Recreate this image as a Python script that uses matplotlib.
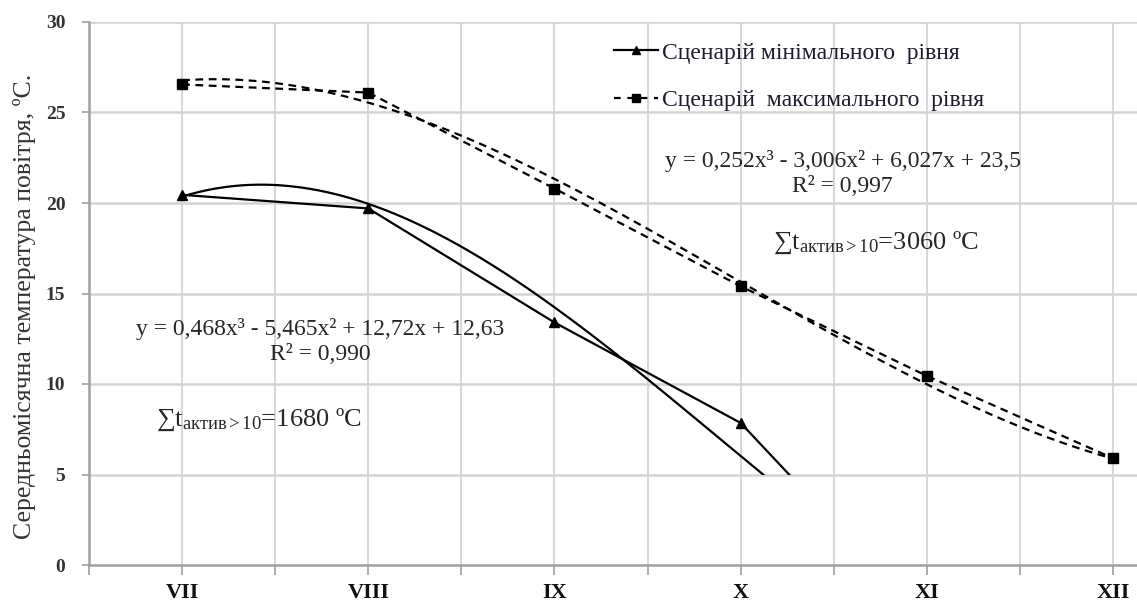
import numpy as np
import matplotlib
matplotlib.use("Agg")
import matplotlib.pyplot as plt
from matplotlib.patches import Rectangle
from matplotlib.lines import Line2D

# ---- data ----
categories = ["VII", "VIII", "IX", "X", "XI", "XII"]
min_vals = [20.45, 19.7, 13.4, 7.85, -3.1]      # last point runs off below the 5-line
max_vals = [26.55, 26.1, 20.8, 15.4, 10.45, 5.9]
min_coef = [0.468, -5.465, 12.72, 12.63]         # cubic trend, minimum scenario
max_coef = [0.252, -3.006, 6.027, 23.5]          # cubic trend, maximum scenario
label_min = "Сценарій мінімального  рівня"
label_max = "Сценарій  максимального  рівня"
eq_min = "y = 0,468x³ - 5,465x² + 12,72x + 12,63\nR² = 0,990"
eq_max = "y = 0,252x³ - 3,006x² + 6,027x + 23,5\nR² = 0,997"
sum_min = r"$\mathrm{∑t_{актив>10}}$=1680 ºC"
sum_max = r"$\mathrm{∑t_{актив>10}}$=3060 ºC"
ylabel = "Середньомісячна температура повітря, ºС."

plt.rcParams['font.family'] = ['Liberation Serif', 'DejaVu Serif']
plt.rcParams['mathtext.fontset'] = 'custom'
plt.rcParams['mathtext.rm'] = 'Liberation Serif'
plt.rcParams['mathtext.it'] = 'Liberation Serif:italic'
plt.rcParams['mathtext.bf'] = 'Liberation Serif:bold'

W, H = 1137, 610
fig = plt.figure(figsize=(W / 100, H / 100), dpi=100)
ax = fig.add_axes([89 / W, 45 / H, (W - 89) / W, (565 - 22) / H])

x_min = np.arange(1, len(min_vals) + 1)
x_max = np.arange(1, len(max_vals) + 1)

grid_c = "#d3d3d3"
for xv in np.arange(1.0, 6.6, 0.5):
    ax.axvline(xv, color=grid_c, lw=1.3, zorder=0)
for yv in range(5, 31, 5):
    ax.axhline(yv, color=grid_c, lw=1.8, zorder=0)

clip = Rectangle((0.5, 5), 10, 30, transform=ax.transData)

# minimum scenario
l1, = ax.plot(x_min, min_vals, color="black", lw=1.6, marker="^", ms=7,
              markevery=[0, 1, 2, 3], zorder=3)
l1.set_clip_path(clip)
xt = np.linspace(1, 4.5, 200)
t1, = ax.plot(xt, np.polyval(min_coef, xt), color="black", lw=1.6, zorder=3)
t1.set_clip_path(clip)

# maximum scenario
ax.plot(x_max, max_vals, color="black", lw=1.6, ls=(0, (3.5, 2.5)), marker="s",
        ms=7, zorder=3)
xt2 = np.linspace(1, 6, 300)
ax.plot(xt2, np.polyval(max_coef, xt2), color="black", lw=1.6,
        ls=(0, (3.5, 2.5)), zorder=3)

# axes styling
for s in ["top", "right"]:
    ax.spines[s].set_visible(False)
for s in ["left", "bottom"]:
    ax.spines[s].set_color("#a0a0a0")
    ax.spines[s].set_linewidth(1.8)

ax.set_yticks(range(0, 31, 5))
ax.set_yticklabels([str(v) for v in range(0, 31, 5)], fontsize=14,
                   color="#333333", fontweight="bold")
ax.tick_params(axis="y", length=5, color="#a0a0a0", width=1.2, pad=12)

ax.set_xticks(np.arange(1, len(categories) + 1))
ax.set_xticklabels(categories, fontsize=16, fontweight="bold", color="#111111")
ax.set_xticks(np.arange(0.5, 6.6, 0.5), minor=True)
ax.tick_params(axis="x", which="both", length=7, color="#a0a0a0", width=1.2, pad=6)

ax.set_xlim(0.5, 6 + 24 / 186)
ax.set_ylim(0, 30)

fig.text(25 / W, 1 - 306 / H, ylabel, rotation=90, ha="center", va="center",
         fontsize=18.5, color="#333333")

# legend
handles = [
    Line2D([], [], color="black", lw=1.6, marker="^", ms=6),
    Line2D([], [], color="black", lw=1.6, ls=(0, (3, 3)), marker="s", ms=6),
]
leg = ax.legend(handles, [label_min, label_max], loc="upper left",
                bbox_to_anchor=(614 / W, 1 - 42 / H), bbox_transform=fig.transFigure,
                frameon=False, fontsize=17, handlelength=1.85, handletextpad=0.2,
                labelspacing=1.1, borderaxespad=0, borderpad=0)
for t in leg.get_texts():
    t.set_color("#1c1c2c")

def px(xp, yp):
    return 1 + (xp - 183) / 186, (565 - yp) / 18.1

tc = "#262626"
x, y = px(843, 173)
ax.text(x, y, eq_max, ha="center", va="center", multialignment="center",
        fontsize=17, color=tc, linespacing=1.25, zorder=4)
x, y = px(321, 341)
ax.text(x, y, eq_min, ha="center", va="center", multialignment="center",
        fontsize=17, color=tc, linespacing=1.25, zorder=4)
x, y = px(773, 243)
ax.text(x, y, sum_max, ha="left", va="center", fontsize=19, color=tc, zorder=4)
x, y = px(157, 420)
ax.text(x, y, sum_min, ha="left", va="center", fontsize=19, color=tc, zorder=4)

fig.savefig("out.png", dpi=100)
